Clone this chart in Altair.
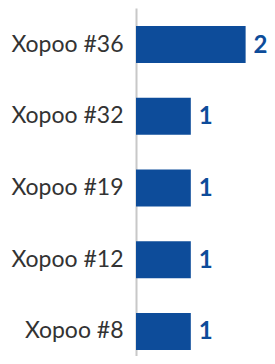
import altair as alt
import pandas as pd

categories = ["Xopoo #36", "Xopoo #32", "Xopoo #19", "Xopoo #12", "Xopoo #8"]
values = [2, 1, 1, 1, 1]

df = pd.DataFrame({"name": categories, "count": values})

BLUE = "#0d4c9a"
y = alt.Y(
    "name:N", sort=categories, title=None,
    scale=alt.Scale(paddingInner=0.484, paddingOuter=0.251, range=[0, 360]),
    axis=alt.Axis(ticks=False, labelFont="Lato", labelFontSize=23,
                  labelColor="#333333", labelPadding=13, domainColor="#c8c8c8",
                  domainWidth=2, labelLimit=200, grid=False),
)
x = alt.X("count:Q", scale=alt.Scale(domain=[0, 2.39], nice=False), axis=None)

bars = alt.Chart(df).mark_bar(color=BLUE).encode(x=x, y=y)
text = alt.Chart(df).mark_text(
    align="left", baseline="middle", dx=8, dy=1, font="Lato", fontWeight="bold",
    fontSize=24, color=BLUE,
).encode(x=x, y=y, text="count:Q")

chart = (bars + text).properties(
    width=131, height=348,
    autosize=alt.AutoSizeParams(type="none"),
    padding={"left": 128, "top": 0, "right": 0, "bottom": 0},
).configure_view(stroke=None)

chart.save("out.html", embed_options={"renderer": "svg", "actions": False})
